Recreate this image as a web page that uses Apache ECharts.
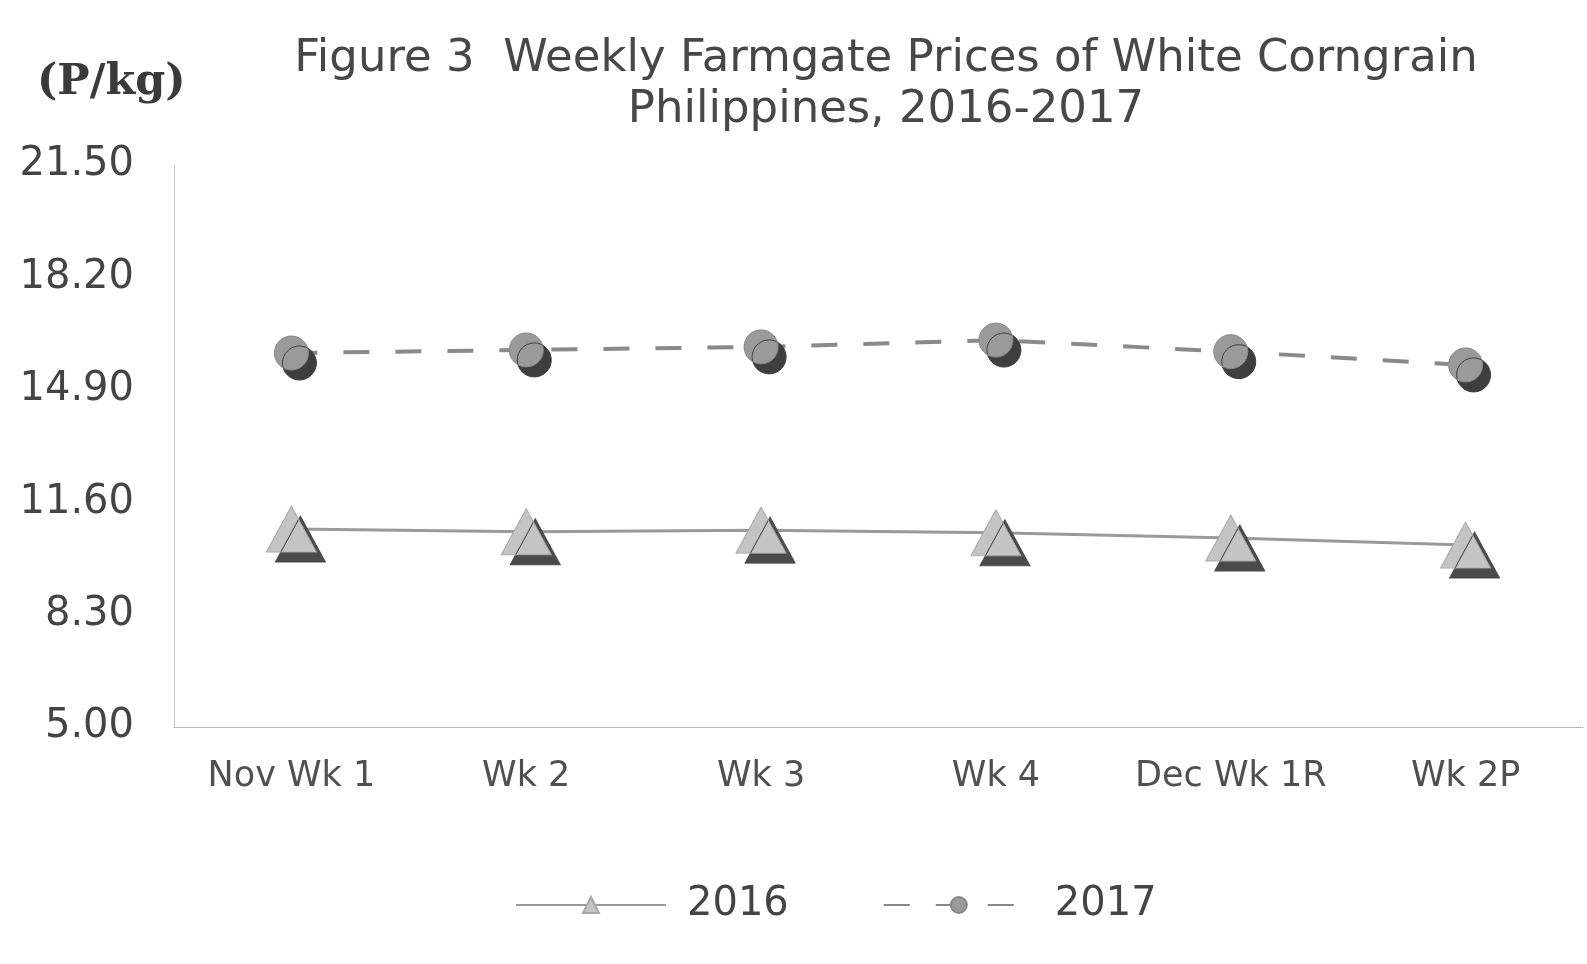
<!DOCTYPE html>
<html><head><meta charset="utf-8">
<script src="https://cdn.jsdelivr.net/npm/echarts@6/dist/echarts.min.js"></script>
<style>html,body{margin:0;padding:0;background:#fff}#c{width:1587px;height:964px}</style>
</head><body><div id="c"></div>
<script>
const categories = ['Nov Wk 1','Wk 2','Wk 3','Wk 4','Dec Wk 1R','Wk 2P'];
const s2016 = [10.81, 10.73, 10.78, 10.70, 10.55, 10.34];
const s2017 = [15.98, 16.07, 16.16, 16.36, 16.02, 15.63];
const yMin = 5.0, yMax = 21.5, yStep = 3.3;

const sans = 'DejaVu Sans, Liberation Sans, Arial';
const chart = echarts.init(document.getElementById('c'));
chart.setOption({
  backgroundColor: '#ffffff',
  animation: false,
  title: [{
    text: 'Figure 3  Weekly Farmgate Prices of White Corngrain\nPhilippines, 2016-2017',
    left: 881, top: 29, textAlign: 'center',
    textStyle: {fontFamily: sans, fontSize: 45, fontWeight: 'normal', color: '#474747', lineHeight: 51}
  }, {
    text: '(P/kg)', left: 32, top: 56,
    textStyle: {fontFamily: 'DejaVu Serif, Liberation Serif', fontSize: 43, fontWeight: 'bold', color: '#3a3a3a'}
  }],
  legend: {
    bottom: 34, left: 510,
    itemWidth: 150, itemHeight: 20, itemGap: 94,
    textStyle: {fontFamily: sans, fontSize: 40, color: '#444', padding: [0,0,0,16]},
    data: ['2016', '2017']
  },
  grid: {left: 174, right: 4, top: 165, bottom: 237},
  xAxis: {
    type: 'category', data: categories, boundaryGap: true,
    axisLine: {show: true, lineStyle: {color: '#aaa', type: 'dotted', width: 1}},
    axisTick: {show: false},
    axisLabel: {fontFamily: sans, fontSize: 35, color: '#505050', margin: 32, interval: 0}
  },
  yAxis: {
    type: 'value', min: yMin, max: yMax, interval: yStep,
    axisLine: {show: true, lineStyle: {color: '#bbb', type: 'dotted', width: 1}},
    axisTick: {show: false},
    splitLine: {show: false},
    axisLabel: {fontFamily: sans, fontSize: 40, color: '#444', margin: 40,
      formatter: v => v.toFixed(2)}
  },
  series: [{
    name: '2016', type: 'line', data: s2016,
    symbol: 'triangle', symbolSize: [50, 46],
    lineStyle: {color: '#9a9a9a', width: 3, type: 'solid'},
    itemStyle: {color: '#c4c4c4', borderColor: '#a8a8a8', borderWidth: 1,
      shadowColor: '#4a4a4a', shadowOffsetX: 9, shadowOffsetY: 10, shadowBlur: 0},
    z: 2
  }, {
    name: '2017', type: 'line', data: s2017,
    symbol: 'circle', symbolSize: 34,
    lineStyle: {color: '#8a8a8a', width: 4, type: [26, 26]},
    itemStyle: {color: '#9a9a9a', borderColor: '#888', borderWidth: 1,
      shadowColor: '#3e3e3e', shadowOffsetX: 8, shadowOffsetY: 10, shadowBlur: 0},
    z: 3
  }]
});
</script></body></html>
